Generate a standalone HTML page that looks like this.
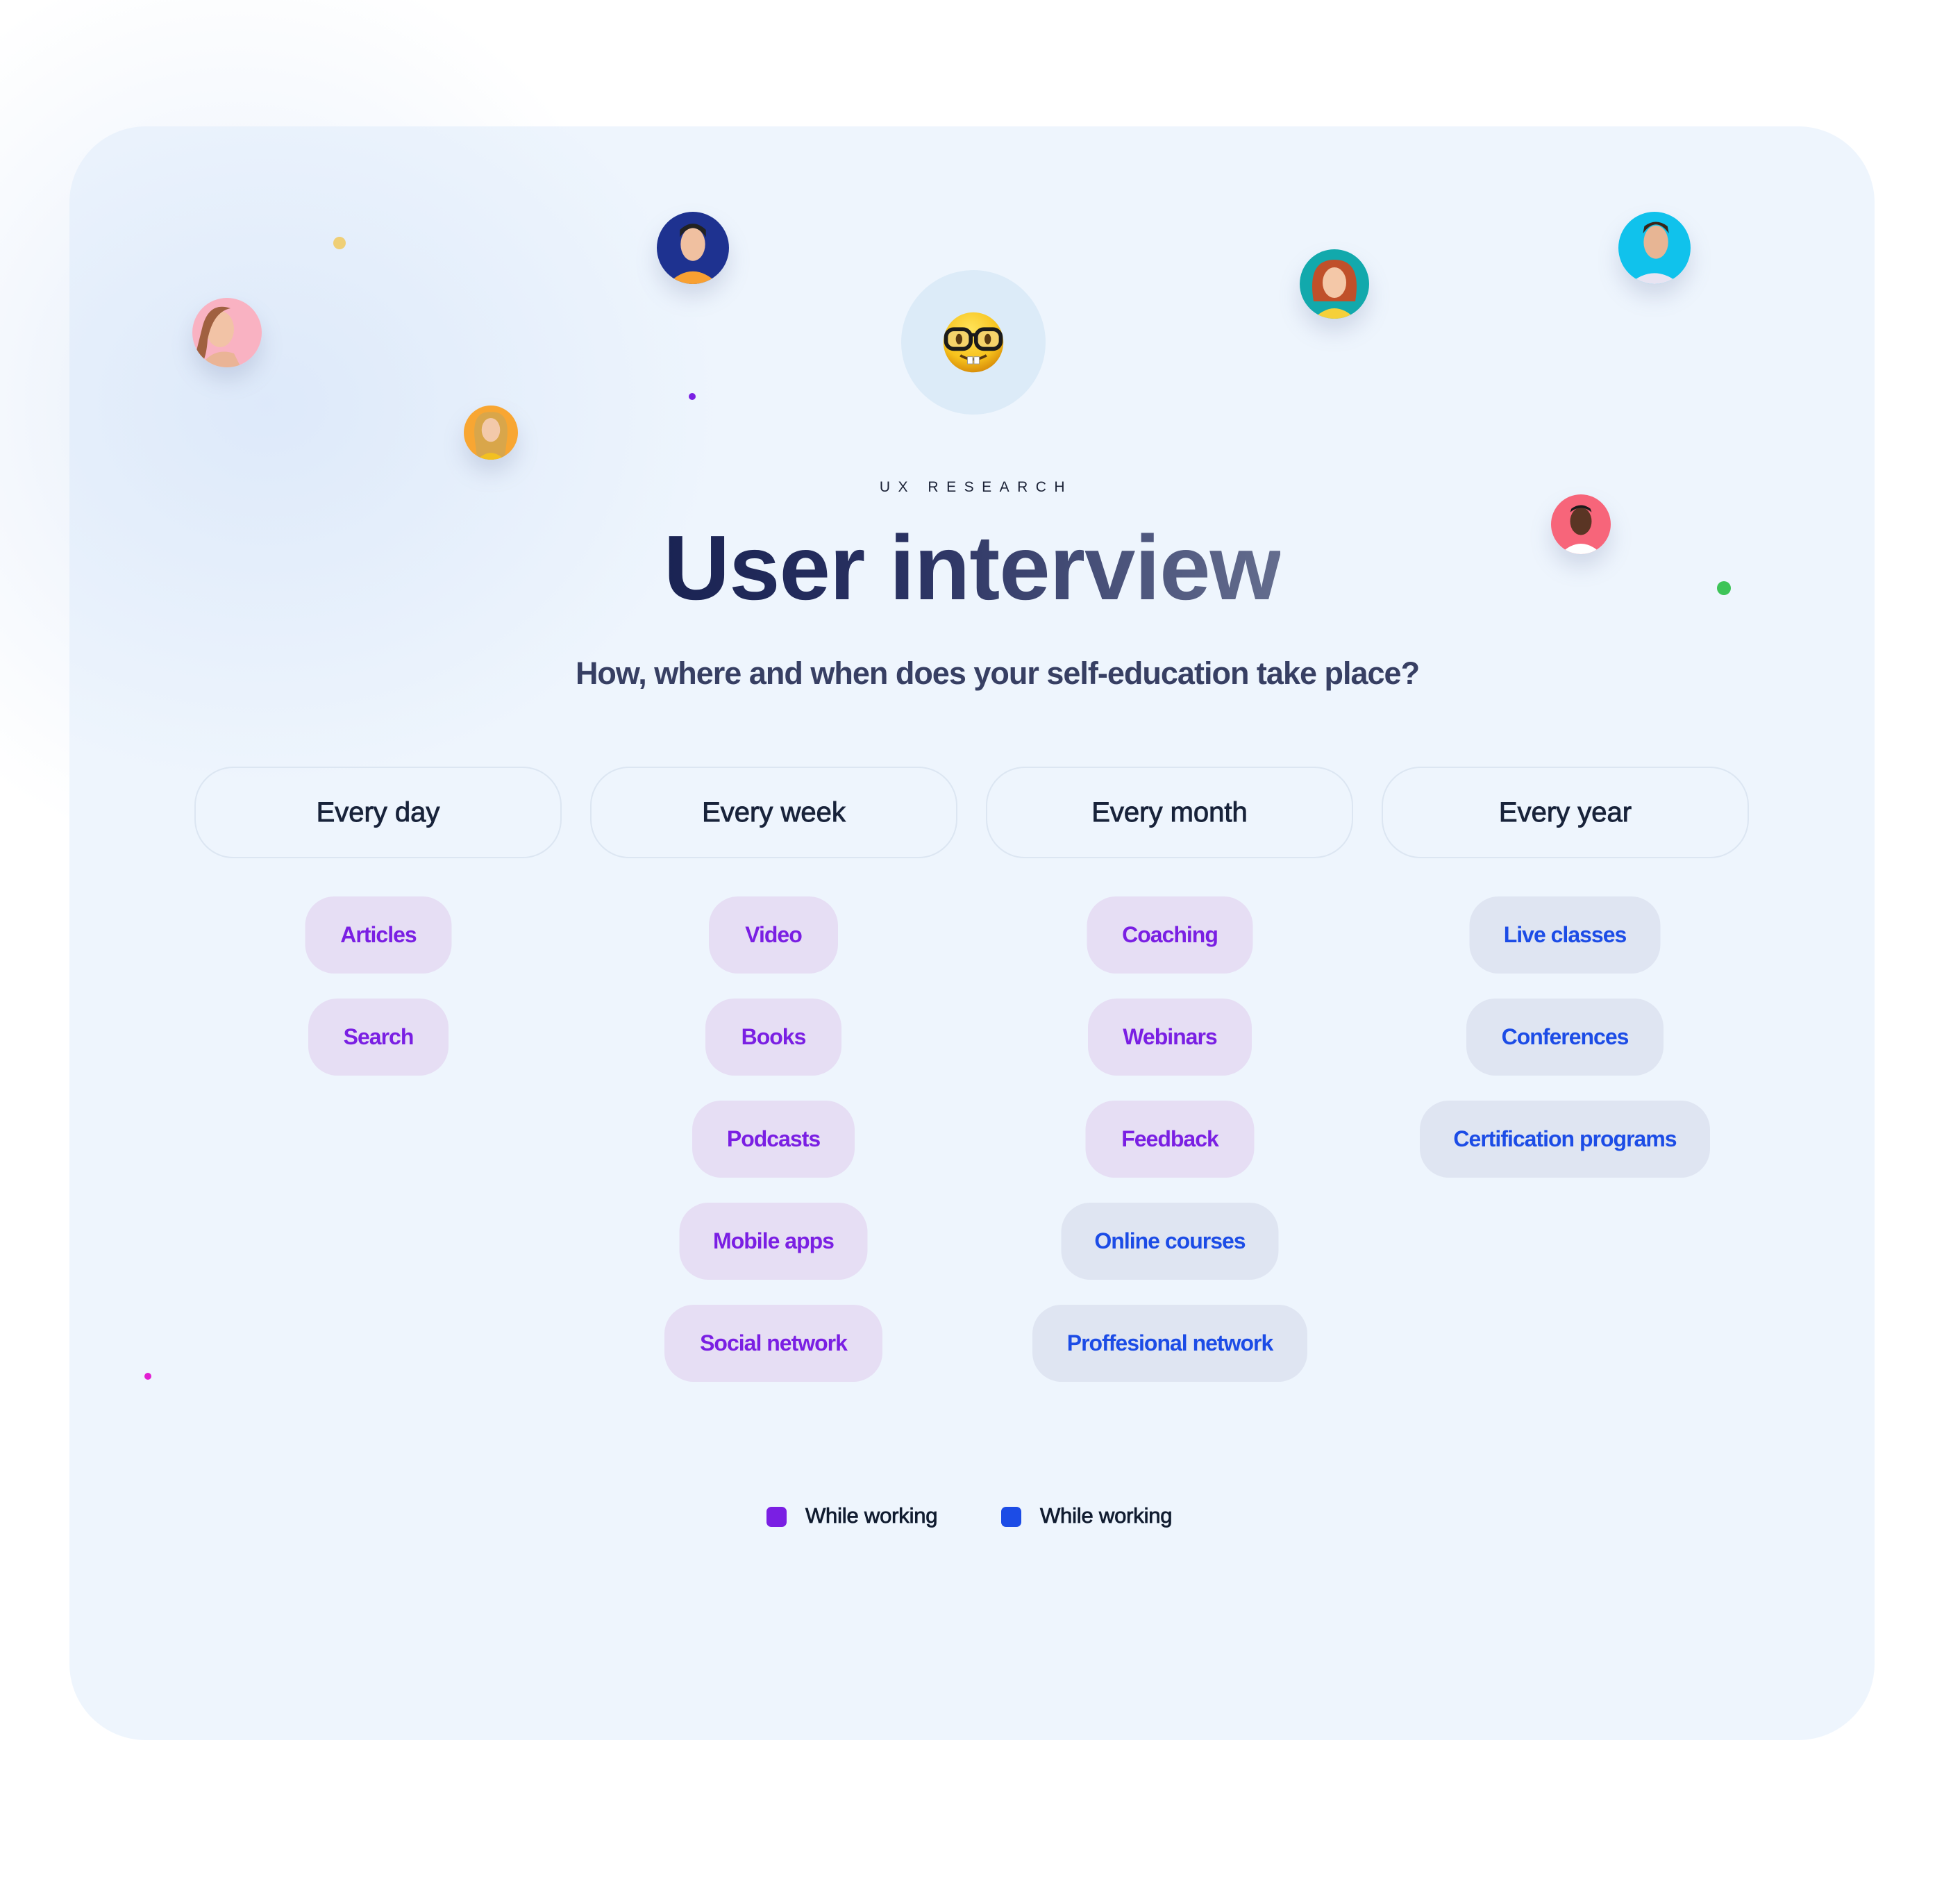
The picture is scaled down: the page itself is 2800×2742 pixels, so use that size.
<!DOCTYPE html>
<html><head><meta charset="utf-8"><style>
*{margin:0;padding:0;box-sizing:border-box}
html,body{width:2800px;height:2742px;background:#fff;overflow:hidden;font-family:"Liberation Sans",sans-serif}
.glow{position:absolute;left:-200px;top:0;width:1200px;height:1300px;background:radial-gradient(ellipse at 45% 45%,rgba(200,218,245,.45),rgba(255,255,255,0) 65%)}
.card{position:absolute;left:100px;top:182px;width:2600px;height:2324px;border-radius:110px;background:#eef5fd;overflow:hidden}
.card .g2{position:absolute;left:-100px;top:0;width:1100px;height:1000px;background:radial-gradient(ellipse at 35% 40%,rgba(214,228,248,.7),rgba(238,245,253,0) 65%)}
.abs{position:absolute}
.av{position:absolute;border-radius:50%;overflow:hidden;box-shadow:0 18px 30px rgba(120,130,170,.25)}
.dot{position:absolute;border-radius:50%}
.hdr{position:absolute;top:1104px;width:529px;height:132px;border:2px solid #dce6f2;border-radius:56px;display:flex;align-items:center;justify-content:center;font-size:40px;color:#18233a;-webkit-text-stroke:.9px #18233a}
.pill{position:absolute;height:111px;border-radius:42px;display:flex;align-items:center;justify-content:center;font-size:32px;font-weight:bold;letter-spacing:-1px;transform:translateX(-50%);white-space:nowrap}
.p{background:#e6def4;color:#7a1fe3}
.b{background:#dfe5f2;color:#1c4ce6}
.leg{position:absolute;top:2165px;font-size:31px;color:#111c30;-webkit-text-stroke:.8px #111c30;letter-spacing:-.2px}
.sq{position:absolute;top:2170px;width:29px;height:29px;border-radius:7px}
</style></head><body>
<div class="glow"></div>
<div class="card"><div class="g2"></div></div>

<div class="abs" style="left:1298px;top:389px;width:208px;height:208px;border-radius:50%;background:#dcebf8"></div>
<svg class="abs" style="left:1355px;top:446px" width="94" height="94" viewBox="0 0 100 100">
<defs><radialGradient id="eg" cx="45%" cy="30%" r="70%"><stop offset="0" stop-color="#ffe45a"/><stop offset=".7" stop-color="#f7c21c"/><stop offset="1" stop-color="#d98f0a"/></radialGradient></defs>
<circle cx="50" cy="50" r="46" fill="url(#eg)"/>
<rect x="8" y="30" width="38" height="30" rx="12" fill="#f5d36a" stroke="#1b1b1b" stroke-width="6"/>
<rect x="54" y="30" width="38" height="30" rx="12" fill="#f5d36a" stroke="#1b1b1b" stroke-width="6"/>
<rect x="44" y="36" width="12" height="5" fill="#1b1b1b"/>
<ellipse cx="28" cy="45" rx="5" ry="8" fill="#5a3a10"/><ellipse cx="72" cy="45" rx="5" ry="8" fill="#5a3a10"/>
<path d="M30 70 Q50 82 70 70" stroke="#5a3a10" stroke-width="4" fill="none"/>
<rect x="41" y="72" width="8" height="11" fill="#fff" stroke="#999" stroke-width="1"/><rect x="51" y="72" width="8" height="11" fill="#fff" stroke="#999" stroke-width="1"/>
</svg>

<svg class="av" style="left:277px;top:429px" width="100" height="100" viewBox="0 0 100 100"><rect width="100" height="100" fill="#f9b2c2"/><ellipse cx="40" cy="45" rx="20" ry="26" fill="#f2c3a6"/><path d="M15 40 Q25 5 55 15 Q30 20 22 60 Q20 90 10 100 L0 100 Z" fill="#a06040"/><path d="M10 100 Q30 70 60 80 L70 100Z" fill="#eab496"/></svg>
<svg class="av" style="left:668px;top:584px" width="78" height="78" viewBox="0 0 100 100"><rect width="100" height="100" fill="#f8a632"/><path d="M20 60 Q15 10 50 12 Q85 10 80 60 L75 100 L25 100Z" fill="#d9a64a"/><ellipse cx="50" cy="45" rx="17" ry="22" fill="#f3c9aa"/><path d="M25 100 Q50 75 75 100Z" fill="#f2c020"/></svg>
<svg class="av" style="left:946px;top:305px" width="104" height="104" viewBox="0 0 100 100"><rect width="100" height="100" fill="#1e3290"/><path d="M15 100 Q50 65 85 100Z" fill="#f8a032"/><ellipse cx="50" cy="45" rx="17" ry="23" fill="#f0c0a0"/><path d="M32 35 Q50 10 68 35 L68 25 Q50 8 32 25Z" fill="#222"/></svg>
<svg class="av" style="left:1872px;top:359px" width="100" height="100" viewBox="0 0 100 100"><rect width="100" height="100" fill="#12a9ac"/><path d="M20 75 Q10 15 50 15 Q90 15 80 75Z" fill="#c0502a"/><ellipse cx="50" cy="48" rx="17" ry="22" fill="#f4c8a8"/><path d="M20 100 Q50 70 80 100Z" fill="#f5d03a"/></svg>
<svg class="av" style="left:2331px;top:305px" width="104" height="104" viewBox="0 0 100 100"><rect width="100" height="100" fill="#10c2ec"/><path d="M15 100 Q50 70 85 100Z" fill="#e8e4f2"/><ellipse cx="52" cy="42" rx="17" ry="23" fill="#e7b594"/><path d="M34 30 Q52 5 70 30 L68 20 Q52 8 36 20Z" fill="#3a2418"/></svg>
<svg class="av" style="left:2234px;top:712px" width="86" height="86" viewBox="0 0 100 100"><rect width="100" height="100" fill="#f7657a"/><path d="M15 100 Q50 65 85 100Z" fill="#fff"/><ellipse cx="50" cy="45" rx="18" ry="23" fill="#5a3524"/><path d="M32 30 Q50 15 68 30 L66 24 Q50 12 34 24Z" fill="#1a1a1a"/></svg>

<div class="dot" style="left:480px;top:341px;width:18px;height:18px;background:#efcf76"></div>
<div class="dot" style="left:992px;top:566px;width:10px;height:10px;background:#7a1fe3"></div>
<div class="dot" style="left:2473px;top:837px;width:20px;height:20px;background:#3ec458"></div>
<div class="dot" style="left:208px;top:1977px;width:10px;height:10px;background:#e21fd2"></div>

<div class="abs" style="left:0;width:2800px;top:690px;text-align:center;font-size:21px;letter-spacing:11.5px;color:#1b2236;padding-left:12px">UX RESEARCH</div>
<div class="abs" style="left:0;width:2800px;top:728px;text-align:center;font-size:132px;font-weight:bold;line-height:180px;letter-spacing:-1px">
<span style="background:linear-gradient(90deg,#1a2353 0%,#2a3262 40%,#646d8e 100%);-webkit-background-clip:text;background-clip:text;color:transparent">User interview</span></div>
<div class="abs" style="left:0;width:2800px;top:940px;text-align:center;font-size:45px;font-weight:bold;line-height:60px;letter-spacing:-1px;color:#373f63;padding-left:73px">How, where and when does your self-education take place?</div>

<div class="hdr" style="left:280px">Every day</div>
<div class="hdr" style="left:850px">Every week</div>
<div class="hdr" style="left:1420px">Every month</div>
<div class="hdr" style="left:1990px">Every year</div>

<div class="pill p" style="left:545px;top:1291px;width:211px">Articles</div>
<div class="pill p" style="left:545px;top:1438px;width:202px">Search</div>
<div class="pill p" style="left:1114px;top:1291px;width:186px">Video</div>
<div class="pill p" style="left:1114px;top:1438px;width:196px">Books</div>
<div class="pill p" style="left:1114px;top:1585px;width:234px">Podcasts</div>
<div class="pill p" style="left:1114px;top:1732px;width:271px">Mobile apps</div>
<div class="pill p" style="left:1114px;top:1879px;width:314px">Social network</div>
<div class="pill p" style="left:1685px;top:1291px;width:239px">Coaching</div>
<div class="pill p" style="left:1685px;top:1438px;width:236px">Webinars</div>
<div class="pill p" style="left:1685px;top:1585px;width:243px">Feedback</div>
<div class="pill b" style="left:1685px;top:1732px;width:313px">Online courses</div>
<div class="pill b" style="left:1685px;top:1879px;width:396px">Proffesional network</div>
<div class="pill b" style="left:2254px;top:1291px;width:275px">Live classes</div>
<div class="pill b" style="left:2254px;top:1438px;width:284px">Conferences</div>
<div class="pill b" style="left:2254px;top:1585px;width:418px">Certification programs</div>

<div class="sq" style="left:1104px;background:#7a1fe3"></div>
<div class="leg" style="left:1160px">While working</div>
<div class="sq" style="left:1442px;background:#1c4ce6"></div>
<div class="leg" style="left:1498px">While working</div>
</body></html>
